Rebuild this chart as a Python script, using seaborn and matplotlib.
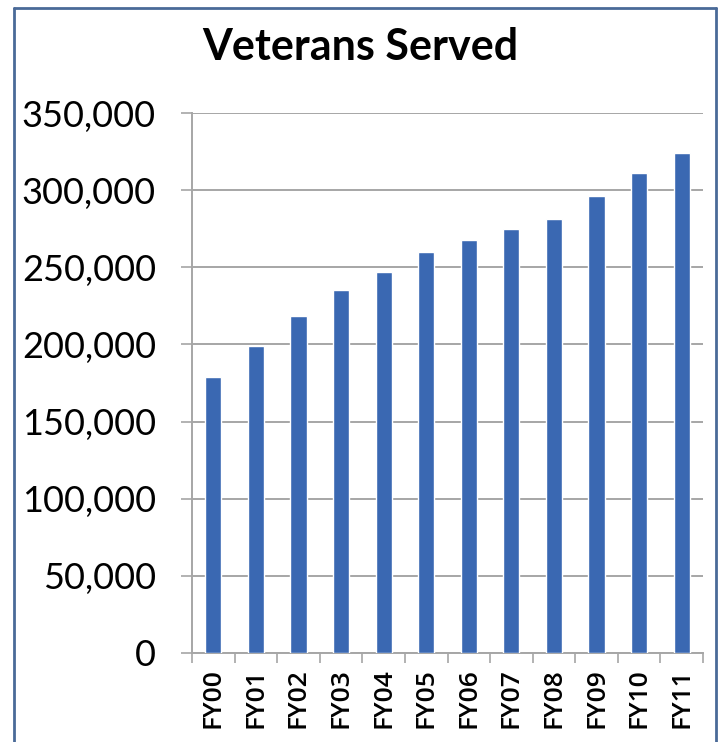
import matplotlib
matplotlib.use("Agg")
import matplotlib.pyplot as plt
import seaborn as sns
import numpy as np
import pandas as pd
from matplotlib.ticker import FuncFormatter, FixedLocator
from matplotlib.lines import Line2D

# datos
anios = ["FY00", "FY01", "FY02", "FY03", "FY04", "FY05",
         "FY06", "FY07", "FY08", "FY09", "FY10", "FY11"]
veteranos = [179000, 199000, 218500, 235000, 247000, 260000,
             267500, 275000, 281500, 296500, 311000, 324000]
ticks_y = [0, 50000, 100000, 150000, 200000, 250000, 300000, 350000]

df = pd.DataFrame({"Anio": anios, "Veteranos": veteranos})

sns.set_theme(style="white")
plt.rcParams["font.family"] = ["Lato", "DejaVu Sans"]

fig = plt.figure(figsize=(7.22, 7.42), dpi=100)
ax = fig.add_axes([192 / 722, 1 - 653 / 742, (703 - 192) / 722, (653 - 113) / 742])

sns.barplot(data=df, x="Anio", y="Veteranos", color="#3a68b2", width=0.38,
            saturation=1, ax=ax, zorder=3)

ax.set_ylim(0, 350000)
ax.set_xlim(-0.5, len(anios) - 0.5)
ax.set_yticks(ticks_y)
ax.yaxis.set_major_formatter(FuncFormatter(lambda v, p: f"{int(v):,}"))
ax.grid(axis="y", color="#a6a6a6", linewidth=1.4, zorder=0)
ax.set_axisbelow(True)

ax.set_xlabel("")
ax.set_ylabel("")
ax.tick_params(axis="y", labelsize=26, length=8, width=1.2, color="#a6a6a6",
               pad=18, labelcolor="black", left=True)
ax.tick_params(axis="x", which="major", length=0, pad=11)
ax.set_xticks(range(len(anios)), labels=anios, rotation=90, fontsize=19,
              fontfamily="Open Sans", fontweight="semibold", color="black")
ax.xaxis.set_minor_locator(FixedLocator(np.arange(-0.5, len(anios), 1.0)))
ax.tick_params(axis="x", which="minor", length=7, width=1.2, color="#a6a6a6",
               bottom=True)

for lado in ["top", "right"]:
    ax.spines[lado].set_visible(False)
for lado in ["left", "bottom"]:
    ax.spines[lado].set_color("#a6a6a6")
    ax.spines[lado].set_linewidth(1.4)

fig.text(360 / 722, 1 - 47 / 742, "Veterans Served", ha="center", va="center",
         fontsize=31, fontweight="bold", color="black")

# marco exterior (izquierda, arriba, derecha)
borde = "#4a6a98"
fig.add_artist(Line2D([14 / 722, 14 / 722], [0, 1 - 8 / 742], color=borde, lw=2,
                      transform=fig.transFigure))
fig.add_artist(Line2D([14 / 722, 716 / 722], [1 - 8 / 742, 1 - 8 / 742], color=borde, lw=2,
                      transform=fig.transFigure))
fig.add_artist(Line2D([716 / 722, 716 / 722], [0, 1 - 8 / 742], color=borde, lw=2,
                      transform=fig.transFigure))

fig.savefig("out.png", dpi=100)
